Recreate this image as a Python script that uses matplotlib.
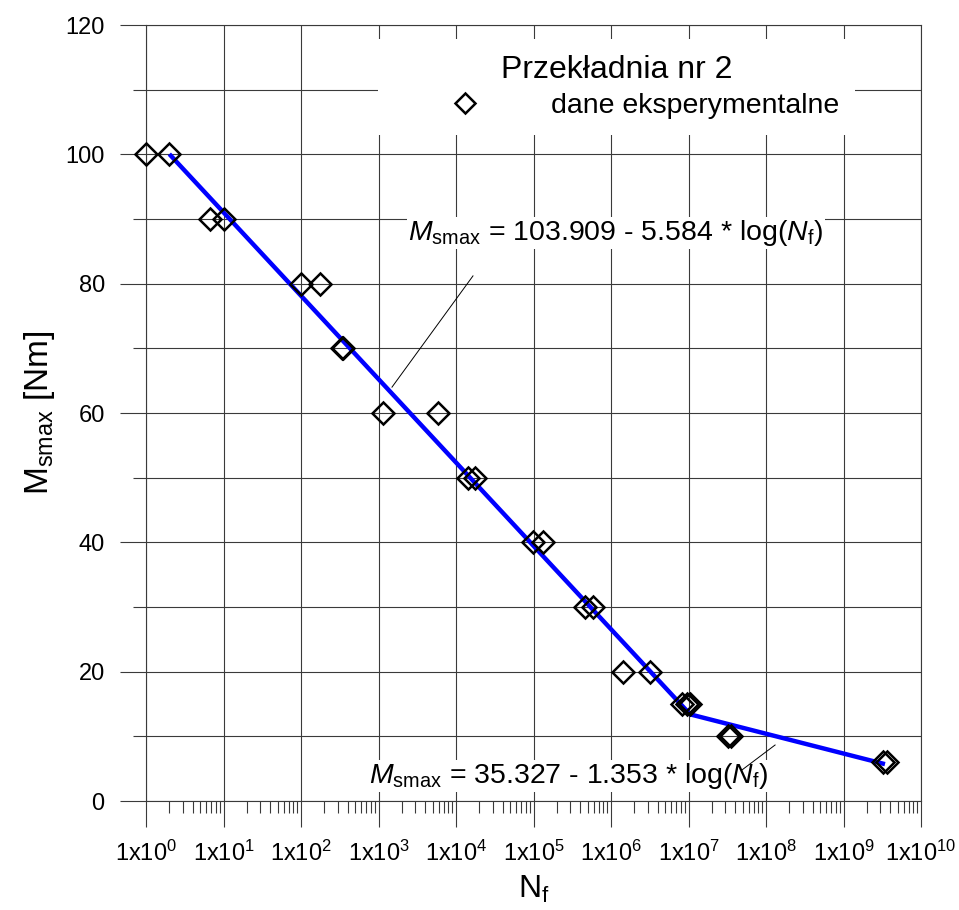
import numpy as np
import matplotlib
matplotlib.use('Agg')
import matplotlib.pyplot as plt
from matplotlib.ticker import LogLocator, NullFormatter, MultipleLocator

plt.rcParams['font.family'] = ['Liberation Sans', 'DejaVu Sans']
plt.rcParams['mathtext.fontset'] = 'custom'
plt.rcParams['mathtext.rm'] = 'Liberation Sans'
plt.rcParams['mathtext.it'] = 'Liberation Sans:italic'
plt.rcParams['mathtext.bf'] = 'Liberation Sans:bold'

# experimental points (cycles to failure, max torque)
cycles = [1, 2, 6.7, 10, 100, 176, 335, 350, 1130, 5910,
          14150, 17600, 97500, 134000, 462000, 591000,
          1.44e6, 3.19e6, 8.2e6, 9.5e6, 1.05e7, 3.2e7, 3.5e7, 3.2e9, 3.6e9]
torque = [100, 100, 90, 90, 80, 80, 70, 70, 60, 60,
          50, 50, 40, 40, 30, 30,
          20, 20, 15, 15, 15, 10, 10, 6, 6]

# fitted lines (two segments)
fit_n = [2, 1.05e7, 3.43e9]
fit_m = [100.04, 13.4, 5.7]

# leader lines for the equations
lead1_n = [1493, 16560]
lead1_m = [64.0, 81.2]
lead2_n = [1.31e8, 4.9e7]
lead2_m = [8.66, 4.8]

decades = list(range(0, 11))
xtick_labels = [r'$\mathregular{1x10^{%d}}$' % k for k in decades]

fig = plt.figure(figsize=(9.59, 9.10), dpi=100)
ax = fig.add_axes([146 / 959, 1 - 801 / 910, 775 / 959, 776 / 910])

grid_col = '#3a3a3a'
ax.set_xscale('log')
ax.set_xlim(1, 1e10)
ax.set_ylim(0, 120)

ax.set_xticks([10.0 ** k for k in decades])
ax.set_xticklabels(xtick_labels)
ax.xaxis.set_minor_locator(LogLocator(base=10, subs=np.arange(2, 10), numticks=100))
ax.xaxis.set_minor_formatter(NullFormatter())
ax.set_yticks(np.arange(0, 121, 20))
ax.yaxis.set_minor_locator(MultipleLocator(10))

ax.tick_params(axis='both', which='major', direction='out', length=18.7, width=0.8,
               color=grid_col, labelsize=17)
ax.tick_params(axis='x', which='major', pad=10)
ax.tick_params(axis='y', which='major', pad=11)
ax.tick_params(axis='x', which='minor', direction='out', length=8.6, width=0.8, color=grid_col)
ax.tick_params(axis='y', which='minor', direction='out', length=9.4, width=0.8, color=grid_col)

ax.grid(True, which='major', axis='both', color=grid_col, lw=0.8, zorder=0)
ax.grid(True, which='minor', axis='y', color=grid_col, lw=0.8, zorder=0)
ax.set_axisbelow(True)
for s in ax.spines.values():
    s.set_color(grid_col)
    s.set_linewidth(0.8)

# fit line
ax.plot(fit_n, fit_m, color='#0000ff', lw=3.2, zorder=3, solid_capstyle='butt')

# data points
ax.plot(cycles, torque, ls='none', marker='D', ms=11.5, mfc='none', mec='black',
        mew=1.8, zorder=4, clip_on=False, label='dane eksperymentalne')

# leader lines
ax.plot(lead1_n, lead1_m, color='black', lw=0.7, zorder=5)
ax.plot(lead2_n, lead2_m, color='black', lw=0.7, zorder=6)

# equations
ax.text(1.16e6, 86.75, r'$M_{\mathregular{smax}}$ = 103.909 - 5.584 * log($N_{\mathregular{f}}$)',
        ha='center', va='baseline', fontsize=20.5, zorder=5,
        bbox=dict(facecolor='white', edgecolor='none', pad=1))
ax.text(2.87e5, 2.78, r'$M_{\mathregular{smax}}$ = 35.327 - 1.353 * log($N_{\mathregular{f}}$)',
        ha='center', va='baseline', fontsize=20.5, zorder=5,
        bbox=dict(facecolor='white', edgecolor='none', pad=1))

leg = ax.legend(title='Przekładnia nr 2', loc='upper right', bbox_to_anchor=(0.915, 0.982),
                fontsize=20.5, title_fontsize=23, frameon=True, framealpha=1,
                edgecolor='none', fancybox=False, borderpad=0.55, borderaxespad=0,
                handlelength=4.98, handletextpad=0.55, labelspacing=0.29,
                markerscale=0.85)
leg.set_zorder(10)

ax.set_xlabel(r'$\mathregular{N_f}$', fontsize=23, labelpad=6)
ax.set_ylabel(r'$\mathregular{M_{smax}}$ [Nm]', fontsize=24, labelpad=6)

fig.savefig('out.png', dpi=100)
